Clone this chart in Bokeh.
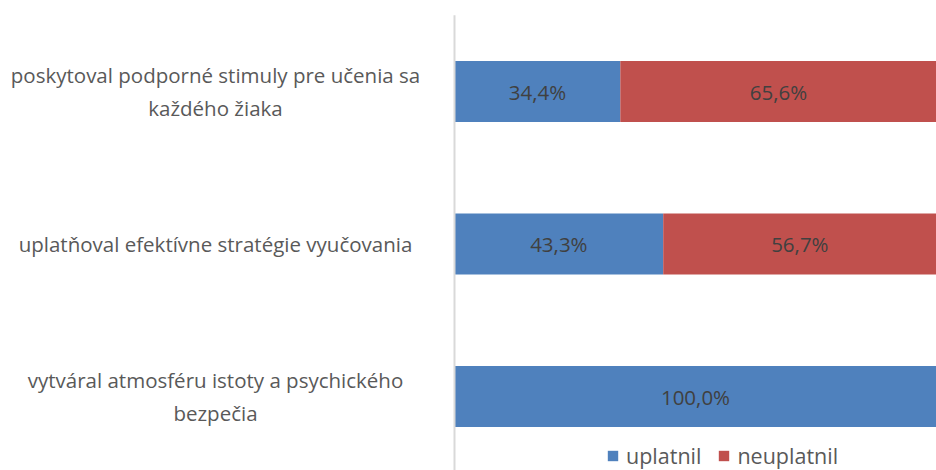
from bokeh.plotting import figure
from bokeh.models import Range1d, Legend, LegendItem
from bokeh.core.properties import value
from bokeh.embed import file_html
from bokeh.resources import INLINE

categories = [
    "poskytoval podporné stimuly pre učenia sa\nkaždého žiaka",
    "uplatňoval efektívne stratégie vyučovania",
    "vytváral atmosféru istoty a psychického\nbezpečia",
]
uplatnil = [34.4, 43.3, 100.0]
neuplatnil = [65.6, 56.7, 0.0]
series_names = ["uplatnil", "neuplatnil"]

BLUE = "#4F81BD"
RED = "#C0504D"
FONT = "Open Sans"

W, H = 936, 470
AX_PX = 454.0
FULL_PX = 936.0
scale = (FULL_PX - AX_PX) / 100.0
x_start = -AX_PX / scale
x_end = (W - AX_PX) / scale

# category i center at 91 + 152.5*i px from top
c0, step = 91.0, 152.5
y_top = -c0 / step
y_bot = (H - c0) / step

p = figure(width=W, height=H, output_backend="svg", toolbar_location=None,
           x_range=Range1d(x_start, x_end), y_range=Range1d(y_bot, y_top),
           min_border=0, min_border_left=0, min_border_right=0,
           min_border_top=0, min_border_bottom=0)
p.axis.visible = False
p.grid.visible = False
p.outline_line_color = None
p.background_fill_color = "white"
p.border_fill_color = "white"

ys = list(range(len(categories)))
left2 = uplatnil
right2 = [a + b for a, b in zip(uplatnil, neuplatnil)]

r1 = p.hbar(y=ys, left=0, right=uplatnil, height=0.4, fill_color=BLUE,
            line_color=None)
r2 = p.hbar(y=ys, left=left2, right=right2, height=0.4, fill_color=RED,
            line_color=None)

# axis line
p.segment(x0=[0], y0=[-0.5], x1=[0], y1=[len(categories) - 0.5],
          line_color="#d9d9d9", line_width=2)

# data labels
lx, ly, lt = [], [], []
for i in range(len(categories)):
    if uplatnil[i] > 0:
        lx.append(uplatnil[i] / 2); ly.append(i)
        lt.append(f"{uplatnil[i]:.1f}%".replace(".", ","))
    if neuplatnil[i] > 0:
        lx.append(uplatnil[i] + neuplatnil[i] / 2); ly.append(i)
        lt.append(f"{neuplatnil[i]:.1f}%".replace(".", ","))
p.text(x=lx, y=ly, text=lt, text_align="center", text_baseline="middle",
       text_font=value(FONT), text_font_size="20.5px", text_color="#404040")

# category labels
cat_x = (215 - AX_PX) / scale
p.text(x=[cat_x] * len(categories), y=ys, text=categories,
       text_align="center", text_baseline="middle", text_font=value(FONT),
       text_font_size="20.5px", text_color="#595959", text_line_height=1.15)

legend = Legend(items=[LegendItem(label=series_names[0], renderers=[r1]),
                       LegendItem(label=series_names[1], renderers=[r2])],
                orientation="horizontal", location=(606, 0),
                background_fill_alpha=0, border_line_color=None,
                label_text_font=FONT, label_text_font_size="21.5px",
                label_text_color="#595959", glyph_width=13, glyph_height=13,
                label_height=20, padding=0, margin=0, spacing=16,
                label_standoff=7)
p.add_layout(legend)

open("out.html", "w").write(file_html(p, INLINE))
